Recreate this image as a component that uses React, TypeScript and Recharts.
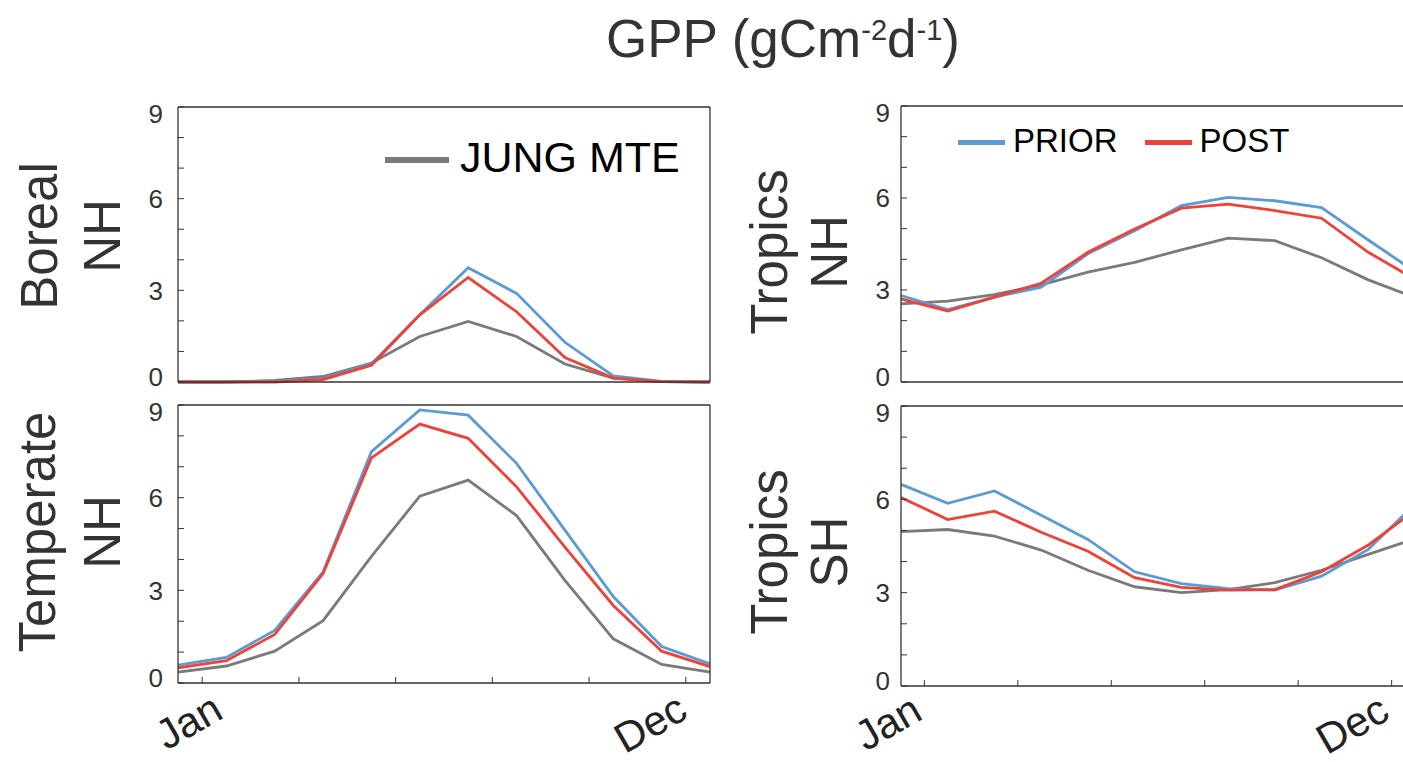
import { LineChart, Line, XAxis, YAxis, Legend } from 'recharts';

const FONT = '"Liberation Sans", Arial, Helvetica, sans-serif';
const BLUE = '#5b9bd5';
const RED = '#ef4136';
const GRAY = '#7a7a7a';
const AXIS = '#333333';

// months 1..12, ticks every second month (between months)
const months = [1, 2, 3, 4, 5, 6, 7, 8, 9, 10, 11, 12];
const monthTicks = [1.5, 3.5, 5.5, 7.5, 9.5, 11.5];
const monthTickLabels = ['Jan', '', '', '', '', 'Dec'];
const gppTicks = [0, 1, 2, 3, 4, 5, 6, 7, 8, 9];
const gppTickLabels = ['0', '', '', '3', '', '', '6', '', '', '9'];

// Boreal NH
const borealJung = [0, 0, 0.05, 0.18, 0.62, 1.49, 1.98, 1.49, 0.59, 0.13, 0.01, 0];
const borealPrior = [0, 0, 0.02, 0.1, 0.6, 2.2, 3.74, 2.9, 1.3, 0.2, 0.02, 0];
const borealPost = [0, 0, 0, 0.08, 0.55, 2.2, 3.42, 2.3, 0.8, 0.13, 0.01, 0];

// Temperate NH
const temperateJung = [0.35, 0.55, 1.03, 2.02, 4.1, 6.05, 6.57, 5.42, 3.32, 1.43, 0.6, 0.35];
const temperatePrior = [0.58, 0.83, 1.7, 3.6, 7.49, 8.84, 8.67, 7.11, 4.95, 2.8, 1.18, 0.62];
const temperatePost = [0.49, 0.72, 1.57, 3.54, 7.29, 8.38, 7.92, 6.35, 4.4, 2.51, 1.03, 0.53];

// Tropics NH
const tropNhJung = [2.55, 2.64, 2.85, 3.17, 3.58, 3.9, 4.31, 4.69, 4.61, 4.05, 3.33, 2.75];
const tropNhPrior = [2.82, 2.36, 2.77, 3.09, 4.18, 4.93, 5.75, 6.02, 5.91, 5.69, 4.63, 3.6];
const tropNhPost = [2.71, 2.31, 2.77, 3.22, 4.23, 4.99, 5.67, 5.8, 5.59, 5.34, 4.23, 3.35];

// Tropics SH
const tropShJung = [4.96, 5.03, 4.82, 4.37, 3.72, 3.19, 3.0, 3.1, 3.32, 3.72, 4.23, 4.73];
const tropShPrior = [6.48, 5.87, 6.27, 5.49, 4.71, 3.67, 3.29, 3.13, 3.08, 3.53, 4.39, 5.85];
const tropShPost = [6.06, 5.35, 5.62, 4.94, 4.33, 3.48, 3.17, 3.08, 3.1, 3.67, 4.53, 5.65];

const YTick = (props: any) => {
  const { x, y, payload } = props;
  const i = gppTicks.indexOf(payload.value);
  const lab = gppTickLabels[i];
  if (!lab) return null;
  const shift = payload.value === 9 ? 7 : payload.value === 0 ? -5 : 0;
  return (
    <text x={x} y={y + shift} dy="0.36em" textAnchor="end" fontSize={26} fill={AXIS} fontFamily={FONT}>
      {lab}
    </text>
  );
};

const makeXTick = (janShift: number, decShift: number) => (props: any) => {
  const { x, y, payload } = props;
  const i = monthTicks.indexOf(payload.value);
  const lab = monthTickLabels[i];
  if (!lab) return null;
  const ax = x + (i === 0 ? janShift : decShift);
  return (
    <text x={ax} y={y} transform={`rotate(-30 ${ax} ${y})`} textAnchor="end" fontSize={42} fill="#222" fontFamily={FONT}>
      {lab}
    </text>
  );
};

const makeLegend = (names: string[], font: number, lineW: number, thick: number, gap: number, spacing: number) => (props: any) => {
  const payload = props.payload || [];
  const items = names.map((n) => payload.find((it: any) => it.value === n)).filter(Boolean);
  return (
    <div style={{ display: 'flex', alignItems: 'center' }}>
      {items.map((it: any) => (
        <div key={it.value} style={{ display: 'flex', alignItems: 'center', marginRight: spacing }}>
          <svg width={lineW} height={thick} style={{ display: 'block', marginTop: 4 }}>
            <line x1={0} x2={lineW} y1={thick / 2} y2={thick / 2} stroke={it.color} strokeWidth={thick} />
          </svg>
          <span style={{ marginLeft: gap, fontSize: font, lineHeight: 1, color: '#000', fontFamily: FONT, whiteSpace: 'nowrap' }}>
            {it.value}
          </span>
        </div>
      ))}
    </div>
  );
};

type PanelProps = {
  jung: number[];
  prior: number[];
  post: number[];
  left: number;
  top: number;
  width: number;
  height: number;
  margin: { top: number; right: number; bottom: number; left: number };
  xLabels: boolean;
  xMargin?: number;
  janShift?: number;
  decShift?: number;
  yGap: number;
  legend?: any;
  legendPos?: { left: number; top: number };
};

const Panel = (p: PanelProps) => {
  const data = months.map((m, i) => ({ month: m, jung: p.jung[i], prior: p.prior[i], post: p.post[i] }));
  const axisLine = { stroke: AXIS, strokeWidth: 1.3 };
  const tickLine = { stroke: AXIS, strokeWidth: 1 };
  return (
    <div style={{ position: 'absolute', left: p.left, top: p.top }}>
      <LineChart width={p.width} height={p.height} data={data} margin={p.margin}>
        <XAxis
          dataKey="month"
          type="number"
          domain={[1, 12]}
          ticks={monthTicks}
          interval={0}
          tickSize={-6}
          tickMargin={p.xMargin || 0}
          height={p.xLabels ? 60 : 1}
          axisLine={axisLine}
          tickLine={tickLine}
          tick={p.xLabels ? makeXTick(p.janShift || 0, p.decShift || 0) : false}
        />
        <XAxis
          xAxisId="top"
          orientation="top"
          dataKey="month"
          type="number"
          domain={[1, 12]}
          ticks={monthTicks}
          interval={0}
          tickSize={-6}
          height={1}
          axisLine={axisLine}
          tickLine={tickLine}
          tick={false}
        />
        <YAxis
          type="number"
          domain={[0, 9]}
          ticks={gppTicks}
          interval={0}
          tickSize={-6}
          tickMargin={p.yGap}
          width={40}
          axisLine={axisLine}
          tickLine={tickLine}
          tick={YTick}
        />
        <YAxis
          yAxisId="right"
          orientation="right"
          type="number"
          domain={[0, 9]}
          ticks={gppTicks}
          interval={0}
          tickSize={-6}
          width={1}
          axisLine={axisLine}
          tickLine={tickLine}
          tick={false}
        />
        <Line dataKey="jung" name="JUNG MTE" stroke={GRAY} strokeWidth={2.8} dot={false} activeDot={false} isAnimationActive={false} />
        <Line dataKey="prior" name="PRIOR" stroke={BLUE} strokeWidth={2.8} dot={false} activeDot={false} isAnimationActive={false} />
        <Line dataKey="post" name="POST" stroke={RED} strokeWidth={2.8} dot={false} activeDot={false} isAnimationActive={false} />
        {p.legend && (
          <Legend
            layout="horizontal"
            align="center"
            verticalAlign="middle"
            content={p.legend}
            wrapperStyle={{ left: p.legendPos!.left, top: p.legendPos!.top, width: 'auto' }}
          />
        )}
      </LineChart>
    </div>
  );
};

const SideLabel = ({ lines, xs, cy }: { lines: string[]; xs: number[]; cy: number }) => (
  <>
    {lines.map((t, i) => (
      <text
        key={t}
        x={xs[i]}
        y={cy}
        transform={`rotate(-90 ${xs[i]} ${cy})`}
        textAnchor="middle"
        fontSize={51}
        fill={AXIS}
        fontFamily={FONT}
      >
        {t}
      </text>
    ))}
  </>
);

export default function App() {
  return (
    <div
      style={{
        position: 'fixed',
        left: 0,
        top: 0,
        width: 1403,
        height: 762,
        overflow: 'hidden',
        background: '#fff',
        fontFamily: FONT,
      }}
    >
      <svg width={1403} height={762} style={{ position: 'absolute', left: 0, top: 0 }}>
        <text x={783} y={57} textAnchor="middle" fontSize={53} fill={AXIS} fontFamily={FONT}>
          GPP (gCm
          <tspan fontSize={29} dy={-17}>-2</tspan>
          <tspan dy={17}>d</tspan>
          <tspan fontSize={29} dy={-17}>-1</tspan>
          <tspan dy={17}>)</tspan>
        </text>
        <SideLabel lines={['Boreal', 'NH']} xs={[57, 120]} cy={236} />
        <SideLabel lines={['Temperate', 'NH']} xs={[55, 120]} cy={532} />
        <SideLabel lines={['Tropics', 'NH']} xs={[787, 847]} cy={252} />
        <SideLabel lines={['Tropics', 'SH']} xs={[787, 847]} cy={552} />
      </svg>
      <Panel
        jung={borealJung}
        prior={borealPrior}
        post={borealPost}
        left={0}
        top={90}
        width={730}
        height={305}
        margin={{ top: 16, right: 19, bottom: 12, left: 138 }}
        xLabels={false}
        yGap={21}
        legend={makeLegend(['JUNG MTE'], 43, 64, 6, 11, 0)}
        legendPos={{ left: 385, top: 46 }}
      />
      <Panel
        jung={temperateJung}
        prior={temperatePrior}
        post={temperatePost}
        left={0}
        top={395}
        width={730}
        height={367}
        margin={{ top: 9, right: 19, bottom: 19, left: 138 }}
        xLabels={true}
        xMargin={40}
        janShift={23}
        decShift={4}
        yGap={21}
      />
      <Panel
        jung={tropNhJung}
        prior={tropNhPrior}
        post={tropNhPost}
        left={740}
        top={90}
        width={700}
        height={305}
        margin={{ top: 15, right: 24, bottom: 12, left: 121 }}
        xLabels={false}
        yGap={17}
        legend={makeLegend(['PRIOR', 'POST'], 33, 47, 5, 8, 27)}
        legendPos={{ left: 218, top: 34 }}
      />
      <Panel
        jung={tropShJung}
        prior={tropShPrior}
        post={tropShPost}
        left={740}
        top={395}
        width={700}
        height={367}
        margin={{ top: 10, right: 24, bottom: 16, left: 121 }}
        xLabels={true}
        xMargin={38}
        janShift={0}
        decShift={0}
        yGap={17}
      />
    </div>
  );
}
